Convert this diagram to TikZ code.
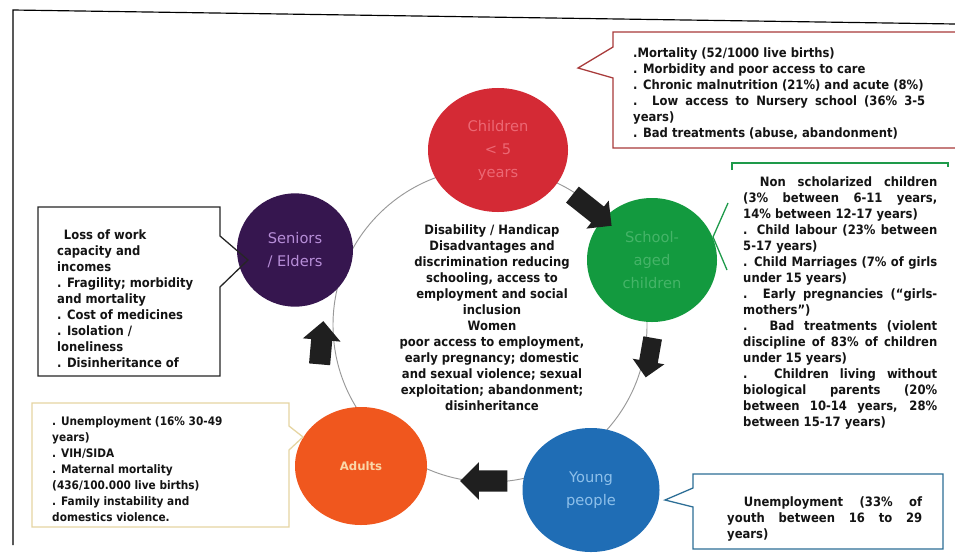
\documentclass[tikz,border=0pt]{standalone}
\usepackage{fontspec}
\setmainfont{DejaVu Sans}[FakeStretch=0.9]
\newfontfamily\lblfont{DejaVu Sans}
\usetikzlibrary{shapes.geometric,shapes.arrows}
\definecolor{cred}{HTML}{D42A35}
\definecolor{credtxt}{HTML}{EC6874}
\definecolor{credline}{HTML}{A83A3A}
\definecolor{cgreen}{HTML}{139A3F}
\definecolor{cgreentxt}{HTML}{45B468}
\definecolor{cgreenline}{HTML}{1E9A4A}
\definecolor{cblue}{HTML}{1F6DB5}
\definecolor{cbluetxt}{HTML}{8EC0EA}
\definecolor{cblueline}{HTML}{2C6E96}
\definecolor{corange}{HTML}{F0571E}
\definecolor{corangetxt}{HTML}{FAD7A8}
\definecolor{corangeline}{HTML}{E6D5A2}
\definecolor{cpurple}{HTML}{36164F}
\definecolor{cpurpletxt}{HTML}{B78ED8}
\hyphenpenalty=10000
\exhyphenpenalty=10000
\begin{document}
\begin{tikzpicture}[x=0.03cm,y=-0.03cm,
  bubble/.style={ellipse, draw=none, align=center, inner sep=0pt,
    font=\lblfont\fontsize{12.5}{19.6}\selectfont},
  blockarrow/.style={single arrow, fill=black!88, draw=none, inner sep=0pt,
    minimum width=0pt, single arrow head extend=#1},
  ctext/.style={font=\fontsize{11}{13.66}\selectfont\bfseries, inner sep=0pt, text=black!92},
  callout/.style={line width=1.1pt, line join=miter}
]
\useasboundingbox (0,0) rectangle (955,558);
\fill[white] (0,0) rectangle (955,558);

% frame
\draw[black, line width=1pt] (13,545) -- (13,10) -- (955,24);

% ring
\draw[gray!80, line width=0.8pt] (490,325) circle[radius=4.71cm];

% circles
\node[bubble, fill=cred, text=credtxt, minimum width=4.2cm, minimum height=3.72cm] (kids) at (498,150) {Children\\< 5\\years};
\node[bubble, fill=cgreen, text=cgreentxt, minimum width=3.9cm, minimum height=3.72cm] (school) at (652,260) {School-\\aged\\children};
\node[bubble, fill=cblue, text=cbluetxt, minimum width=4.11cm, minimum height=3.72cm] (young) at (591,490) {Young\\people};
\node[bubble, fill=corange, text=corangetxt, minimum width=3.96cm, minimum height=3.54cm, font=\lblfont\fontsize{10}{12}\selectfont\bfseries] (adults) at (361,466) {Adults};
\node[bubble, fill=cpurple, text=cpurpletxt, minimum width=3.48cm, minimum height=3.4cm] (seniors) at (295,250) {Seniors\\/ Elders};

% block arrows
\node[blockarrow=0.23cm, minimum height=1.5cm, rotate=-38.5] (a1) at (588,207) {\rule{0pt}{0.6cm}};
\node[blockarrow=0.2cm, minimum height=1.2cm, rotate=-100] (a2) at (650,353) {\rule{0pt}{0.55cm}};
\node[blockarrow=0.25cm, minimum height=1.42cm, rotate=180] (a3) at (489,481) {\rule{0pt}{0.62cm}};
\node[blockarrow=0.25cm, minimum height=1.3cm, rotate=85] (a4) at (321,348) {\rule{0pt}{0.62cm}};

% callout outlines
\draw[callout, credline] (955,32) -- (613,32) -- (613,47) -- (578,68) -- (613,78) -- (613,148) -- (955,148);
\draw[callout, cgreenline] (732,170) -- (732,163) -- (948,163) -- (948,167);
\draw[callout, cgreenline] (728,203) -- (713,237) -- (727,270);
\draw[callout, black!85] (220,207) -- (38,207) -- (38,376) -- (220,376) -- (220,287) -- (248,260) -- (220,236) -- cycle;
\draw[callout, corangeline] (32,403) -- (289,403) -- (289,426) -- (303,437) -- (289,450) -- (289,527) -- (32,527) -- cycle;
\draw[callout, cblueline] (693,474) -- (943,474) -- (943,549) -- (693,549) -- (693,507) -- (665,500) -- (693,488) -- cycle;

% callout texts
\node[ctext, anchor=north west, text width=8.76cm, align=justify] (redtxt) at (633,47) {.Mortality (52/1000 live births)\\
. Morbidity and poor access to care\\
. Chronic malnutrition (21\%) and acute (8\%)\\
. Low access to Nursery school (36\% 3-5\linebreak years)\\
. Bad treatments (abuse, abandonment)};

\node[ctext, anchor=north west, text width=5.82cm, align=justify] (greentxt) at (743,176) {\hspace*{0.5cm}Non scholarized children\linebreak (3\% between 6-11 years,\linebreak 14\% between 12-17 years)\\
. Child labour (23\% between\linebreak 5-17 years)\\
. Child Marriages (7\% of girls\linebreak under 15 years)\\
. Early pregnancies (“girls-\linebreak mothers”)\\
. Bad treatments (violent\linebreak discipline of 83\% of children\linebreak under 15 years)\\
. Children living without\linebreak biological parents (20\%\linebreak between 10-14 years, 28\%\linebreak between 15-17 years)};

\node[ctext, anchor=north west, align=left] (purpletxt) at (57,229) {\hspace*{0.2cm}Loss of work\\ capacity and\\ incomes\\ . Fragility; morbidity\\ and mortality\\ . Cost of medicines\\ . Isolation /\\ loneliness\\ . Disinheritance of};

\node[ctext, anchor=north west, align=left, font=\fontsize{10}{13.66}\selectfont\bfseries] (orangetxt) at (52,416) {. Unemployment (16\% 30-49\\ years)\\ . VIH/SIDA\\ . Maternal mortality\\ (436/100.000 live births)\\ . Family instability and\\ domestics violence.};

\node[ctext, anchor=north west, text width=5.85cm, align=justify] (bluetxt) at (727,496) {\hspace*{0.5cm}Unemployment (33\% of\linebreak youth between 16 to 29\linebreak years)};

\node[ctext, anchor=north, align=center] (centertxt) at (492,224) {Disability / Handicap\\ Disadvantages and\\ discrimination reducing\\ schooling, access to\\ employment and social\\ inclusion\\ Women\\ poor access to employment,\\ early pregnancy; domestic\\ and sexual violence; sexual\\ exploitation; abandonment;\\ disinheritance};
\end{tikzpicture}
\end{document}
